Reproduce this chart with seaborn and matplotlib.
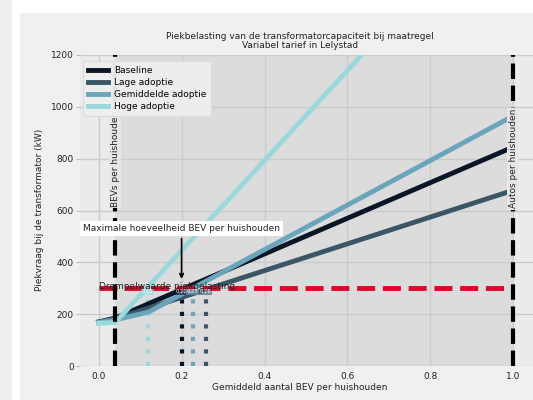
import matplotlib
matplotlib.use("Agg")
import matplotlib.pyplot as plt
from matplotlib.patches import Rectangle
from matplotlib.lines import Line2D
import pandas as pd
import seaborn as sns

# Scenario names and colours
scenarios = ["Baseline", "Lage adoptie", "Gemiddelde adoptie", "Hoge adoptie"]
colors = ["#0a1626", "#3b5666", "#6aa5bb", "#99d9dc"]

# Peak demand (kW) per scenario against average number of BEVs per household
baseline_x = [0.0, 0.04, 1.0]
baseline_y = [170, 185, 845]
lage_x = [0.0, 0.04, 1.0]
lage_y = [170, 182, 678]
gemiddeld_x = [0.0, 0.04, 0.12, 1.0]
gemiddeld_y = [168, 178, 208, 965]
hoog_x = [0.0, 0.04, 1.0]
hoog_y = [165, 168, 1835]

# Threshold and reference levels
threshold = 300
bev_now = 0.04
autos_now = 1.0
# BEVs per household where each scenario reaches the threshold (same order as scenarios)
max_bev = [0.20, 0.258, 0.227, 0.118]

xticks = [0.0, 0.2, 0.4, 0.6, 0.8, 1.0]
yticks = [0, 200, 400, 600, 800, 1000, 1200]

rows = []
for name, xs, ys in zip(scenarios,
                        [baseline_x, lage_x, gemiddeld_x, hoog_x],
                        [baseline_y, lage_y, gemiddeld_y, hoog_y]):
    for x, y in zip(xs, ys):
        rows.append({"bev": x, "kw": y, "scenario": name})
df = pd.DataFrame(rows)

FS = 6.5
plt.rcParams["font.family"] = ["DejaVu Sans"]

W, H = 533, 400
fig = plt.figure(figsize=(W / 100, H / 100), dpi=100)
fig.patch.set_facecolor("white")
fig.add_artist(Rectangle((20 / W, 0), 1, 387 / H, transform=fig.transFigure,
                         facecolor="#f0f0f0", edgecolor="none", zorder=-10))
fig.add_artist(Rectangle((0, 0), 12 / W, 1, transform=fig.transFigure,
                         facecolor="#eeeeee", edgecolor="none", zorder=-10))

ax = fig.add_axes([80 / W, 34 / H, 454 / W, 311 / H])
ax.set_facecolor("#ebebeb")
ax.set_axisbelow(True)
ax.grid(True, color="#cbcbcb", lw=1)
ax.axvspan(bev_now, autos_now, color="#dcdcdc", zorder=0, lw=0)

# Where each scenario hits the threshold
for xv, c in zip(max_bev, colors):
    ax.vlines(xv, 0, threshold, color=c, ls=(0, (1, 2)), lw=3, zorder=2)

sns.lineplot(data=df, x="bev", y="kw", hue="scenario", hue_order=scenarios,
             palette=colors, linewidth=3.5, ax=ax, legend=False,
             errorbar=None, zorder=3)

ax.hlines(threshold, 0, autos_now, color="#e4002b", ls="--", lw=3.5, zorder=4)
ax.axvline(bev_now, color="black", ls="--", lw=3, zorder=4)
ax.axvline(autos_now, color="black", ls="--", lw=3, zorder=4)

ax.text(bev_now, 800, "BEVs per huishouden", rotation=90, ha="center", va="center",
        fontsize=FS, color="#222222", zorder=5,
        bbox=dict(facecolor="#e6e6e6", edgecolor="none", pad=1))
ax.text(autos_now, 800, "Autos per huishouden", rotation=90, ha="center", va="center",
        fontsize=FS, color="#222222", zorder=5,
        bbox=dict(facecolor="#e6e6e6", edgecolor="none", pad=1))

# Small value tags where each scenario crosses the threshold
for xv, c in zip(max_bev, colors):
    ax.text(xv, threshold - 4, f"{xv:.2f}", fontsize=3.8, ha="center", va="top",
            color="white", zorder=5,
            bbox=dict(facecolor=c, edgecolor="none", alpha=0.6, pad=0.5))

ax.text(0.0, 296, "Drempelwaarde piekbelasting", fontsize=FS, ha="left",
        va="baseline", color="#222222", zorder=6)

ax.annotate("Maximale hoeveelheid BEV per huishouden", xy=(max_bev[0], 325),
            xytext=(max_bev[0], 530), ha="center", va="center", fontsize=FS,
            color="#222222", zorder=6,
            bbox=dict(boxstyle="square,pad=0.3", facecolor="white", edgecolor="none"),
            arrowprops=dict(arrowstyle="->", color="black", lw=1.2))

ax.set_xlim(-0.045, 1.05)
ax.set_ylim(0, 1200)
ax.set_xticks(xticks)
ax.set_yticks(yticks)
ax.set_xticklabels([f"{t:.1f}" for t in xticks])
ax.tick_params(axis="x", length=0, pad=4, labelsize=FS, labelcolor="#222222")
ax.tick_params(axis="y", length=3, pad=1.5, color="#bbbbbb", labelsize=FS,
               labelcolor="#222222")
for s in ax.spines.values():
    s.set_visible(False)
ax.set_xlabel("")
ax.set_ylabel("")

handles = [Line2D([0], [0], color=c, lw=3.5) for c in colors]
ax.legend(handles, scenarios, loc="upper left", bbox_to_anchor=(3 / 454, 1 - 6 / 311),
          borderaxespad=0, fontsize=FS, labelspacing=0.35, handlelength=2.2,
          handletextpad=0.7, borderpad=0.55, frameon=True, facecolor="#efefef",
          edgecolor="#dddddd", framealpha=0.95, fancybox=False)

fig.text(300 / W, 1 - 41 / H,
         "Piekbelasting van de transformatorcapaciteit bij maatregel\nVariabel tarief in Lelystad",
         ha="center", va="center", fontsize=FS, color="#222222", linespacing=1.1)
fig.text(300 / W, 1 - 388 / H, "Gemiddeld aantal BEV per huishouden",
         ha="center", va="center", fontsize=FS, color="#222222")
fig.text(40 / W, 1 - 210 / H, "Piekvraag bij de transformator (kW)", rotation=90,
         ha="center", va="center", fontsize=FS, color="#222222")

fig.savefig("out.png", dpi=100, facecolor=fig.get_facecolor())
